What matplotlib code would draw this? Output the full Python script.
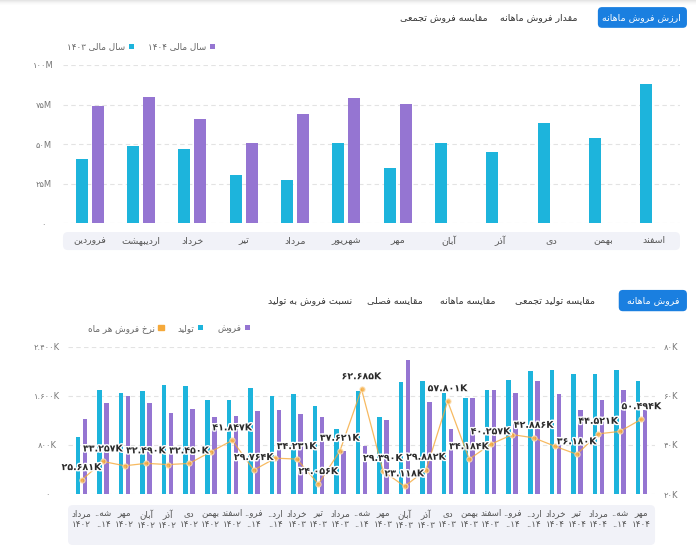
import re
import numpy as np
import matplotlib
matplotlib.use("Agg")
import matplotlib.pyplot as plt
from matplotlib.patches import FancyBboxPatch, Patch
from matplotlib import patheffects

plt.rcParams['font.family'] = ['DejaVu Sans']

# matplotlib has no right-to-left layout, so shape Persian letters by hand
# letter -> (first presentation form, number of forms)
_FORMS = {
    'آ': (0xFE81, 2), 'ا': (0xFE8D, 2), 'ب': (0xFE8F, 4), 'پ': (0xFB56, 4),
    'ت': (0xFE95, 4), 'ث': (0xFE99, 4), 'ج': (0xFE9D, 4), 'چ': (0xFB7A, 4),
    'ح': (0xFEA1, 4), 'خ': (0xFEA5, 4), 'د': (0xFEA9, 2), 'ذ': (0xFEAB, 2),
    'ر': (0xFEAD, 2), 'ز': (0xFEAF, 2), 'ژ': (0xFB8A, 2), 'س': (0xFEB1, 4),
    'ش': (0xFEB5, 4), 'ص': (0xFEB9, 4), 'ض': (0xFEBD, 4), 'ط': (0xFEC1, 4),
    'ظ': (0xFEC5, 4), 'ع': (0xFEC9, 4), 'غ': (0xFECD, 4), 'ف': (0xFED1, 4),
    'ق': (0xFED5, 4), 'ک': (0xFB8E, 4), 'گ': (0xFB92, 4), 'ل': (0xFEDD, 4),
    'م': (0xFEE1, 4), 'ن': (0xFEE5, 4), 'ه': (0xFEE9, 4), 'و': (0xFEED, 2),
    'ی': (0xFBFC, 4),
}
_LET = ''.join(_FORMS)


def _shape(word):
    out = []
    for i, c in enumerate(word):
        base, n = _FORMS[c]
        prev = word[i - 1] if i > 0 else ''
        nxt = word[i + 1] if i + 1 < len(word) else ''
        jp = prev in _FORMS and _FORMS[prev][1] == 4
        jn = n == 4 and nxt in _FORMS
        k = 3 if (jp and jn) else 1 if jp else 2 if jn else 0
        out.append(chr(base + k))
    return ''.join(out)


def fa(text):
    parts = re.findall('[' + _LET + ']+|\\s+|[^\\s' + _LET + ']+', text)
    out = []
    for p in reversed(parts):
        out.append(_shape(p)[::-1] if p[0] in _FORMS else p)
    return ''.join(out)


PD = str.maketrans('0123456789', '۰۱۲۳۴۵۶۷۸۹')

CYAN = '#1DB4DC'
PURPLE = '#9575D2'
ORANGE = '#F5A93A'
BLUE = '#1A7FE0'

# ---- top chart: monthly sales value (million) ----
months = ['فروردین', 'اردیبهشت', 'خرداد', 'تیر', 'مرداد', 'شهریور',
          'مهر', 'آبان', 'آذر', 'دی', 'بهمن', 'اسفند']
value_1403 = [40.4, 48.6, 46.9, 30.5, 27.1, 50.5, 35.1, 50.5, 45.2, 63.1, 53.7, 87.9]
value_1404 = [74.0, 79.7, 65.7, 50.5, 68.8, 78.9, 75.3,
              np.nan, np.nan, np.nan, np.nan, np.nan]
top_ticks = [0, 25, 50, 75, 100]

# ---- bottom chart: monthly production / sales (thousand) and sales rate ----
b_months = ['مرداد', 'شه..', 'مهر', 'آبان', 'آذر', 'دی', 'بهمن', 'اسفند', 'فرو..',
            'ارد..', 'خرداد', 'تیر', 'مرداد', 'شه..', 'مهر', 'آبان', 'آذر', 'دی',
            'بهمن', 'اسفند', 'فرو..', 'ارد..', 'خرداد', 'تیر', 'مرداد', 'شه..', 'مهر']
b_years = ['1402', '..14', '1402', '1402', '1402', '1402', '1402', '1402', '..14',
           '..14', '1403', '1403', '1403', '..14', '1403', '1403', '1403', '1403',
           '1403', '1403', '..14', '..14', '1404', '1404', '1404', '..14', '1404']
production = [935, 1693, 1644, 1682, 1780, 1752, 1524, 1524, 1725, 1605, 1633, 1437,
              1067, 1682, 1252, 1818, 1845, 1644, 1562, 1687, 1861, 1997, 2013, 1959,
              1954, 2024, 1834]
sales = [1229, 1486, 1605, 1486, 1328, 1388, 1262, 1273, 1350, 1377, 1311, 1262,
         707, 789, 1208, 2177, 1507, 1067, 1562, 1687, 1644, 1834, 1633, 1371,
         1524, 1687, 1371]
rate = [25.681, 33.257, 31.5, 32.490, 32.0, 32.450, 37.2, 41.847, 29.764, 34.6,
        34.231, 24.056, 37.621, 62.685, 29.390, 23.118, 29.882, 57.801, 34.184,
        40.257, 44.2, 42.886, 39.4, 36.180, 44.521, 45.5, 50.494]
rate_shown = [1, 1, 0, 1, 0, 1, 0, 1, 1, 0, 1, 1, 1, 1, 1, 1, 1, 1, 1, 1,
              0, 1, 0, 1, 1, 0, 1]
left_ticks = [0, 800, 1600, 2400]
right_ticks = [20, 40, 60, 80]

fig = plt.figure(figsize=(6.96, 5.46), dpi=100)


def tab_row(labels, xs, y, btn):
    x0, x1, y0, y1 = btn
    fig.add_artist(FancyBboxPatch((x0, y0), x1 - x0, y1 - y0,
                                  boxstyle='round,pad=0,rounding_size=0.006',
                                  mutation_aspect=696 / 546, transform=fig.transFigure,
                                  color=BLUE, lw=0))
    for i, (lab, xx) in enumerate(zip(labels, xs)):
        fig.text(xx, y, fa(lab), ha='center', va='center', fontsize=6.8,
                 color='white' if i == 0 else '#333333')


def style(ax):
    for s in ax.spines.values():
        s.set_visible(False)
    ax.tick_params(length=0)


def band(ax, y0, h, asp):
    ax.add_patch(FancyBboxPatch((0, y0), 1, h, boxstyle='round,pad=0,rounding_size=0.008',
                                mutation_aspect=asp, transform=ax.transAxes,
                                clip_on=False, color='#F1F2F8', lw=0, zorder=0))


# faint shadow along the top edge
for k, a in enumerate([0.10, 0.07, 0.045, 0.025, 0.01]):
    fig.add_artist(plt.Rectangle((0, 1 - (k + 1) / 546), 1, 1 / 546,
                                 transform=fig.transFigure, color='black', alpha=a, lw=0))

# top tabs
tab_row(['ارزش فروش ماهانه', 'مقدار فروش ماهانه', 'مقایسه فروش تجمعی'],
        [0.922, 0.774, 0.637], 0.968, (0.859, 0.987, 0.949, 0.987))

ax1 = fig.add_axes([0.0905, 0.591, 0.8865, 0.290])
x = np.arange(len(months))
b03 = ax1.bar(x - 0.156, value_1403, 0.234, color=CYAN, zorder=2)
b04 = ax1.bar(x + 0.156, value_1404, 0.234, color=PURPLE, zorder=2)
ax1.set_xlim(-0.52, 11.5)
ax1.set_ylim(0, 100)
ax1.set_yticks(top_ticks, [str(t).translate(PD) + ('M' if t else '') for t in top_ticks])
ax1.set_xticks(x, [fa(m) for m in months])
style(ax1)
ax1.tick_params(axis='y', labelsize=6, labelcolor='#777777', pad=14)
ax1.tick_params(axis='x', labelsize=6.8, labelcolor='#555555', pad=9)
for t in ax1.get_yticklabels():
    t.set_ha('center')
ax1.grid(axis='y', ls=(0, (4, 3)), color='#E3E3E3', lw=0.8)
ax1.set_axisbelow(True)
band(ax1, -0.169, 0.114, 617 / 158.3)
ax1.legend([b03, b04], [fa('سال مالی ۱۴۰۳'), fa('سال مالی ۱۴۰۴')],
           loc='center left', bbox_to_anchor=(0.085, 0.914), bbox_transform=fig.transFigure,
           ncol=2, frameon=False, markerfirst=False, fontsize=6.3, labelcolor='#666666',
           handlelength=0.6, handleheight=0.6, handletextpad=0.4, columnspacing=1.6)

# bottom tabs
tab_row(['فروش ماهانه', 'مقایسه تولید تجمعی', 'مقایسه ماهانه', 'مقایسه فصلی',
         'نسبت فروش به تولید'],
        [0.938, 0.797, 0.672, 0.568, 0.445], 0.4496, (0.889, 0.987, 0.430, 0.469))

ax2 = fig.add_axes([0.0977, 0.0952, 0.8434, 0.2698])
xb = np.arange(len(production))
bp = ax2.bar(xb - 0.163, production, 0.21, color=CYAN, zorder=2)
bs = ax2.bar(xb + 0.163, sales, 0.21, color=PURPLE, zorder=2)
ax2.set_xlim(-0.63, len(xb) - 0.37)
ax2.set_ylim(0, 2400)
ax2.set_yticks(left_ticks, [('{:,}'.format(t).replace(',', '.') + 'K' if t else '0').translate(PD)
                            for t in left_ticks])
ax2.set_xticks(xb, [fa(m) + '\n' + y.translate(PD) for m, y in zip(b_months, b_years)])
style(ax2)
ax2.tick_params(axis='y', labelsize=6, labelcolor='#777777', pad=15)
ax2.tick_params(axis='x', labelsize=6.3, labelcolor='#555555', pad=11)
for t in ax2.get_yticklabels():
    t.set_ha('center')
ax2.grid(axis='y', ls=(0, (4, 3)), color='#E3E3E3', lw=0.8)
ax2.set_axisbelow(True)
band(ax2, -0.346, 0.271, 587 / 147.3)

ax3 = ax2.twinx()
ax3.set_ylim(20, 80)
ax3.set_yticks(right_ticks, [(str(t) + 'K').translate(PD) for t in right_ticks])
style(ax3)
ax3.tick_params(axis='y', labelsize=6, labelcolor='#777777', pad=6)
ax3.plot(xb, rate, color=ORANGE, lw=0.9, alpha=0.8, marker='o', ms=3.8,
         mfc=ORANGE, mec='#FCE3BE', mew=0.8)
for i, (v, show) in enumerate(zip(rate, rate_shown)):
    if show:
        ax3.annotate(('%.3fK' % v).translate(PD), (i, v), xytext=(0, 9),
                     textcoords='offset points', ha='center', va='center',
                     fontsize=6.8, fontweight='bold', color='#2B2B2B',
                     path_effects=[patheffects.withStroke(linewidth=2, foreground='white')])

ax2.legend([Patch(color=ORANGE), bp, bs],
           [fa('نرخ فروش هر ماه'), fa('تولید'), fa('فروش')],
           loc='center left', bbox_to_anchor=(0.115, 0.399), bbox_transform=fig.transFigure,
           ncol=3, frameon=False, markerfirst=False, fontsize=6.3, labelcolor='#666666',
           handlelength=0.6, handleheight=0.6, handletextpad=0.4, columnspacing=1.6)

fig.savefig('out.png', dpi=100, facecolor='white')
